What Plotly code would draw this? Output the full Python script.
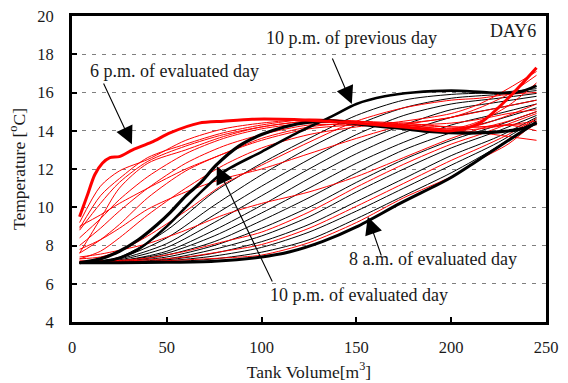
import plotly.graph_objects as go

# ---- tank temperature profiles, DAY6 ----
# common volume grid for the thin night-time (charging) profiles
night_volume = [4, 25, 50, 75, 100, 125, 150, 175, 200, 225, 245]
night_profiles = [
    [7.1, 7.4, 8.8, 10.8, 12.3, 13.6, 14.8, 15.6, 15.9, 16.0, 16.2],
    [7.1, 7.35, 8.4, 10.1, 11.7, 13.1, 14.3, 15.2, 15.7, 15.9, 16.1],
    [7.1, 7.3, 8.1, 9.6, 11.1, 12.5, 13.8, 14.8, 15.4, 15.7, 15.95],
    [7.1, 7.25, 7.9, 9.2, 10.6, 12.0, 13.3, 14.3, 15.1, 15.5, 15.8],
    [7.1, 7.2, 7.7, 8.8, 10.1, 11.5, 12.8, 13.9, 14.7, 15.2, 15.6],
    [7.1, 7.2, 7.6, 8.5, 9.7, 11.0, 12.3, 13.4, 14.3, 14.9, 15.4],
    [7.1, 7.15, 7.5, 8.2, 9.3, 10.5, 11.8, 13.0, 13.9, 14.6, 15.2],
    [7.1, 7.15, 7.4, 8.0, 8.9, 10.0, 11.3, 12.5, 13.5, 14.3, 15.0],
    [7.1, 7.12, 7.3, 7.8, 8.5, 9.5, 10.8, 12.0, 13.1, 14.0, 14.8],
    [7.1, 7.1, 7.25, 7.6, 8.2, 9.1, 10.3, 11.5, 12.7, 13.7, 14.7],
    [7.1, 7.1, 7.2, 7.45, 7.9, 8.7, 9.8, 11.0, 12.2, 13.4, 14.6],
    [7.1, 7.1, 7.15, 7.3, 7.65, 8.3, 9.4, 10.6, 11.8, 13.2, 14.5],
]

# common volume grid for the thin daytime (discharging) profiles
day_volume = [4, 15, 25, 40, 60, 80, 100, 125, 150, 175, 200, 215, 230, 245]
day_profiles = [
    [7.12, 7.12, 7.14, 7.17, 7.25, 7.35, 7.5, 8.15, 9.2, 10.5, 11.6, 12.5, 13.3, 14.5],
    [7.15, 7.15, 7.18, 7.25, 7.4, 7.7, 8.05, 8.9, 10.05, 11.25, 12.45, 13.1, 13.8, 14.65],
    [7.2, 7.2, 7.22, 7.35, 7.7, 8.2, 8.7, 9.75, 11.05, 12.25, 13.3, 13.8, 14.35, 14.9],
    [7.4, 7.55, 7.75, 8.1, 8.8, 9.6, 10.2, 10.8, 11.6, 12.6, 13.6, 14.1, 14.5, 15.0],
    [7.8, 8.3, 8.9, 9.9, 10.8, 11.5, 12.0, 12.8, 13.6, 14.3, 14.7, 15.0, 15.3, 15.6],
    [7.3, 7.4, 7.7, 8.5, 9.8, 11.2, 12.2, 13.4, 14.5, 15.2, 15.6, 15.7, 15.9, 16.0],
    [8.8, 10.2, 11.3, 12.4, 13.2, 13.8, 14.2, 14.5, 14.5, 14.3, 14.1, 14.3, 14.8, 15.4],
    [9.2, 11.1, 11.9, 12.5, 13.5, 14.1, 14.4, 14.6, 14.5, 14.3, 14.1, 14.5, 15.3, 16.5],
    [8.9, 10.6, 11.5, 12.6, 13.3, 13.9, 14.3, 14.6, 14.5, 14.4, 14.2, 14.2, 14.3, 14.0],
    [8.4, 9.4, 10.4, 11.6, 12.8, 13.6, 14.1, 14.4, 14.4, 14.2, 14.0, 13.9, 13.7, 13.5],
    [8.0, 8.9, 9.8, 11.0, 12.3, 13.2, 13.8, 14.3, 14.3, 14.3, 14.4, 14.6, 14.9, 15.1],
    [7.6, 8.3, 9.1, 10.5, 11.9, 12.8, 13.5, 14.1, 14.3, 14.4, 14.7, 15.2, 15.9, 16.9],
    [7.3, 7.7, 8.4, 9.6, 11.0, 12.2, 13.1, 13.8, 14.2, 14.5, 14.9, 15.4, 16.2, 17.1],
    [9.0, 9.6, 10.2, 11.0, 12.0, 12.8, 13.6, 14.2, 14.4, 14.3, 14.2, 14.2, 14.3, 14.3],
    [7.6, 9.4, 11.0, 12.3, 13.0, 13.7, 14.2, 14.5, 14.4, 14.2, 14.0, 14.1, 14.3, 14.5],
]

# highlighted profiles
prev_10pm_vol = [4, 15, 25, 35, 50, 67, 80, 100, 120, 137, 150, 165, 180, 200, 220, 235, 245]
prev_10pm_temp = [7.1, 7.15, 7.35, 7.8, 9.0, 10.7, 11.85, 12.9, 13.95, 14.75, 15.4, 15.8,
                  16.0, 16.1, 16.0, 16.0, 16.35]

am8_vol = [4, 25, 50, 75, 100, 115, 132, 150, 173, 199, 211, 224, 245]
am8_temp = [7.1, 7.1, 7.12, 7.18, 7.4, 7.67, 8.2, 8.97, 10.2, 11.5, 12.25, 13.1, 14.45]

pm6_vol = [4, 8, 12, 16, 20, 25, 32, 42, 52, 67, 80, 95, 110, 125, 150, 175, 200, 215, 230, 245]
pm6_temp = [9.5, 10.6, 11.7, 12.3, 12.6, 12.65, 13.0, 13.4, 13.9, 14.4, 14.5, 14.6, 14.6,
            14.55, 14.4, 14.2, 14.0, 14.4, 15.7, 17.3]

pm10_vol = [4, 15, 25, 35, 45, 52, 60, 68, 76, 88, 100, 112, 125, 138, 155, 173, 190,
            208, 225, 237, 245]
pm10_temp = [7.1, 7.3, 7.7, 8.3, 9.1, 9.75, 10.6, 11.3, 12.2, 13.2, 13.8, 14.2, 14.45,
             14.5, 14.3, 14.13, 13.95, 13.88, 13.94, 14.1, 14.4]

fig = go.Figure()

def add_line(x, y, color, width):
    fig.add_trace(go.Scatter(x=x, y=y, mode="lines",
                             line=dict(color=color, width=width, shape="spline", smoothing=0.8),
                             hoverinfo="skip"))

for prof in night_profiles:
    add_line(night_volume, prof, "black", 1)
for prof in day_profiles:
    add_line(day_volume, prof, "#ff0000", 1)

add_line(prev_10pm_vol, prev_10pm_temp, "black", 2.6)
add_line(am8_vol, am8_temp, "black", 3)
add_line(pm10_vol, pm10_temp, "black", 3.2)
add_line(pm6_vol, pm6_temp, "#ff0000", 3)

TXT = "#1a1a1a"
SERIF = "Liberation Serif"

labels = [
    ("10 p.m. of previous day", 147.6, 18.85),
    ("DAY6", 232.5, 19.22),
    ("6 p.m. of evaluated day", 54.3, 17.13),
    ("10 p.m. of evaluated day", 151.3, 5.42),
    ("8 a.m. of evaluated day", 190.3, 7.30),
]
for text, x, y in labels:
    fig.add_annotation(x=x, y=y, text=text, showarrow=False,
                       font=dict(family=SERIF, size=18, color=TXT))

# arrows: (tail x, tail y, head x, head y)
arrows = [
    (16.3, 16.55, 31.6, 13.3),
    (137.0, 17.86, 147.6, 15.4),
    (106.0, 6.04, 76.4, 12.15),
    (163.4, 7.4, 156.0, 9.5),
]
for tx, ty, hx, hy in arrows:
    fig.add_annotation(x=hx, y=hy, ax=tx, ay=ty, axref="x", ayref="y", xref="x", yref="y",
                       text="", showarrow=True, arrowhead=2, arrowsize=3.2,
                       arrowwidth=1.1, arrowcolor="black", standoff=0)

fig.update_xaxes(range=[0, 250], tickvals=[0, 50, 100, 150, 200, 250],
                 ticks="inside", ticklen=5, tickwidth=2, tickcolor="black",
                 showline=True, linewidth=3, linecolor="black", mirror=True,
                 showgrid=False, zeroline=False, ticklabelstandoff=8, automargin=False,
                 tickfont=dict(family=SERIF, size=16.5, color=TXT),
                 title=dict(text="Tank Volume[m<sup>3</sup>]", standoff=10,
                            font=dict(family=SERIF, size=17.5, color=TXT)))
fig.update_yaxes(range=[4, 20], tickvals=list(range(4, 21, 2)),
                 ticks="inside", ticklen=5, tickwidth=2, tickcolor="black",
                 showline=True, linewidth=3, linecolor="black", mirror=True,
                 showgrid=True, gridcolor="#7f7f7f", gridwidth=1, griddash="4px,6px",
                 zeroline=False, ticklabelstandoff=12, automargin=False,
                 tickfont=dict(family=SERIF, size=16.5, color=TXT),
                 title=dict(text="Temperature [<sup>o</sup>C]", standoff=8,
                            font=dict(family=SERIF, size=17.5, color=TXT)))

fig.update_layout(width=568, height=383, margin=dict(l=72, r=22, t=16, b=61),
                  plot_bgcolor="white", paper_bgcolor="white", showlegend=False)

fig.write_html("out.html")
